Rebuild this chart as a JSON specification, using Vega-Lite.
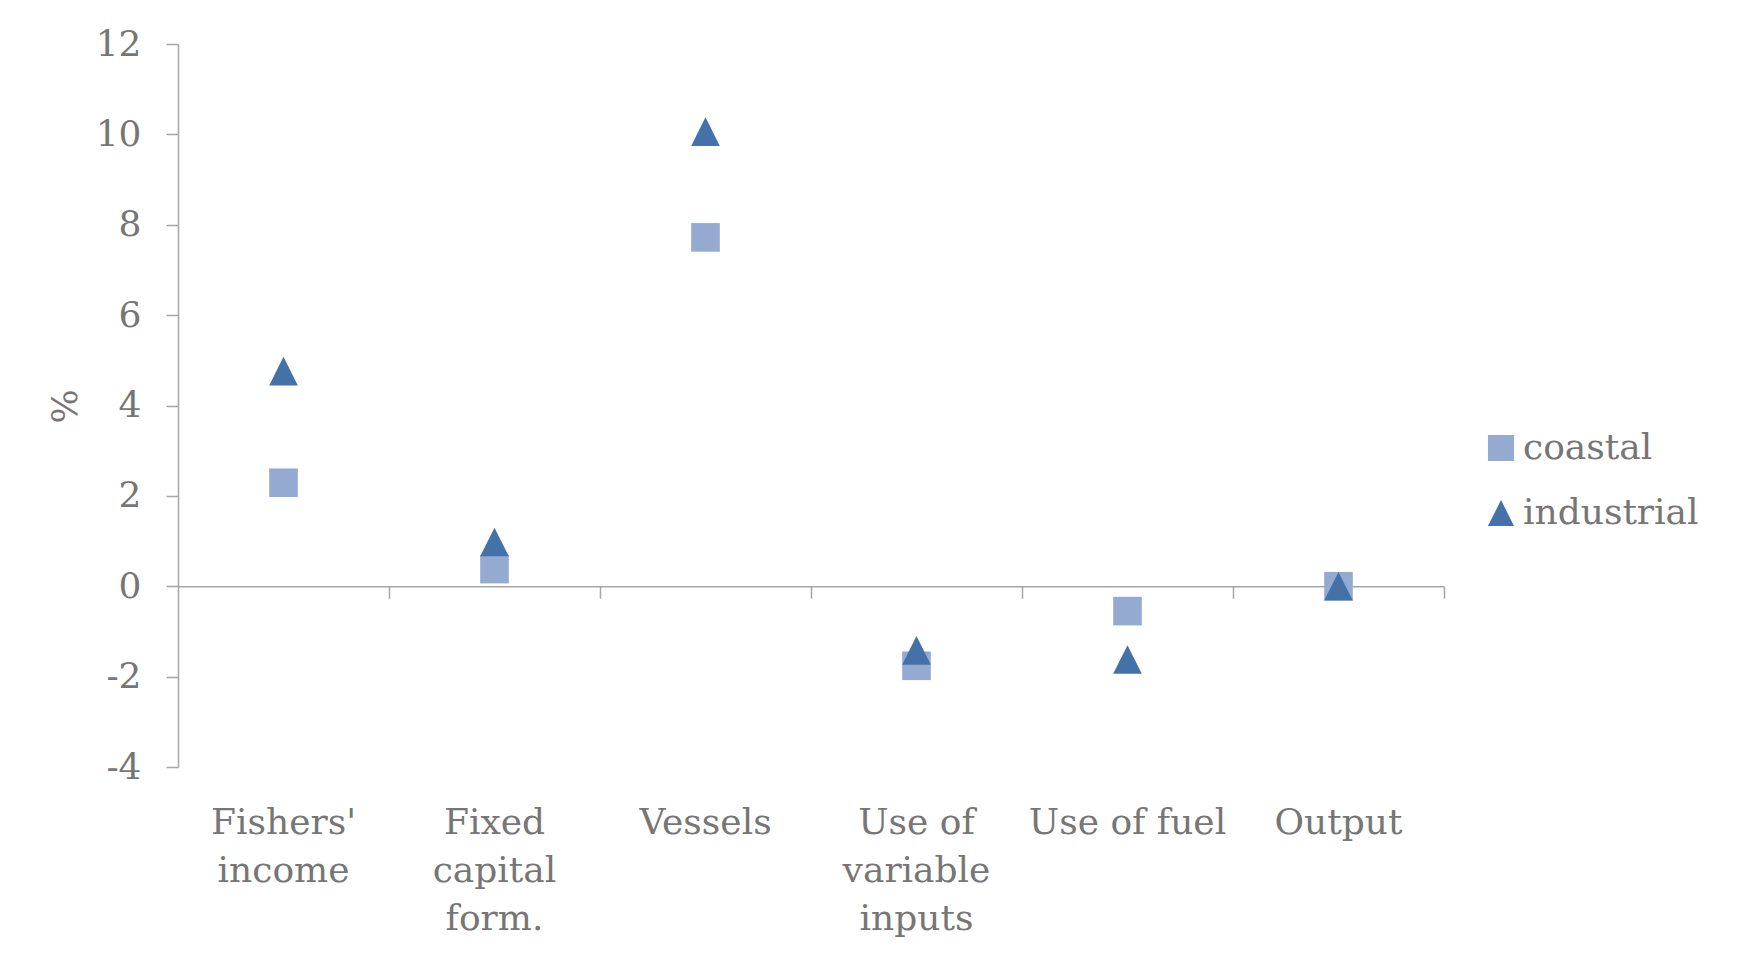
{
  "$schema": "https://vega.github.io/schema/vega-lite/v6.json",
  "autosize": {"type": "none"},
  "padding": {"left": 178, "top": 44, "right": 293, "bottom": 187},
  "width": 1266,
  "height": 723,
  "background": "white",
  "config": {
    "font": "DejaVu Serif",
    "view": {"stroke": null},
    "axis": {
      "labelFont": "DejaVu Serif",
      "labelFontSize": 36,
      "labelColor": "#767676",
      "titleFont": "DejaVu Serif",
      "titleFontSize": 36,
      "titleColor": "#767676",
      "titleFontWeight": "normal",
      "domainColor": "#a6a6a6",
      "tickColor": "#a6a6a6",
      "domainWidth": 1.5,
      "tickWidth": 1.5,
      "grid": false
    },
    "legend": {
      "labelFont": "DejaVu Serif",
      "labelFontSize": 36,
      "labelColor": "#767676"
    }
  },
  "data": {
    "values": [
      {"item": "Fishers' income", "fleet": "coastal", "pct": 2.29},
      {"item": "Fishers' income", "fleet": "industrial", "pct": 4.76},
      {"item": "Fixed capital form.", "fleet": "coastal", "pct": 0.38},
      {"item": "Fixed capital form.", "fleet": "industrial", "pct": 0.98},
      {"item": "Vessels", "fleet": "coastal", "pct": 7.72},
      {"item": "Vessels", "fleet": "industrial", "pct": 10.06},
      {"item": "Use of variable inputs", "fleet": "coastal", "pct": -1.76},
      {"item": "Use of variable inputs", "fleet": "industrial", "pct": -1.42},
      {"item": "Use of fuel", "fleet": "coastal", "pct": -0.55},
      {"item": "Use of fuel", "fleet": "industrial", "pct": -1.62},
      {"item": "Output", "fleet": "coastal", "pct": 0.0},
      {"item": "Output", "fleet": "industrial", "pct": 0.0}
    ]
  },
  "encoding": {
    "y": {
      "field": "pct",
      "type": "quantitative",
      "title": "%",
      "scale": {"domain": [-4, 12], "nice": false, "zero": false},
      "axis": {
        "values": [-4, -2, 0, 2, 4, 6, 8, 10, 12],
        "labelExpr": "toString(datum.value)",
        "tickSize": 12,
        "labelPadding": 25,
        "titleAngle": 270,
        "titleAlign": "center",
        "titleBaseline": "middle",
        "titleX": -113,
        "titleY": 362
      }
    }
  },
  "layer": [
    {
      "mark": {"type": "point", "filled": true, "opacity": 1, "strokeWidth": 0, "size": 820},
      "encoding": {
        "x": {
          "field": "item",
          "type": "nominal",
          "sort": null,
          "title": null,
          "scale": {"type": "band", "paddingInner": 0, "paddingOuter": 0},
          "axis": {
            "orient": "bottom",
            "domain": false,
            "ticks": false,
            "labelAngle": 0,
            "labelAlign": "center",
            "labelBaseline": "alphabetic",
            "labelPadding": 66,
            "labelLineHeight": 48,
            "labelLimit": 0,
            "labelExpr": "datum.value == 'Use of variable inputs' ? ['Use of', 'variable', 'inputs'] : datum.value == 'Use of fuel' ? datum.value : split(datum.value, ' ')"
          }
        },
        "color": {
          "field": "fleet",
          "type": "nominal",
          "title": null,
          "scale": {"domain": ["coastal", "industrial"], "range": ["#95AAD1", "#4472A8"]},
          "legend": {
            "orient": "none",
            "legendX": 1305,
            "legendY": 386,
            "padding": 0,
            "symbolSize": 680,
            "symbolStrokeWidth": 0,
            "labelOffset": 4,
            "labelLimit": 0,
            "rowPadding": 29
          }
        },
        "shape": {
          "field": "fleet",
          "type": "nominal",
          "scale": {"domain": ["coastal", "industrial"], "range": ["square", "M0,-1L1,1L-1,1Z"]}
        },
        "order": {"field": "fleet", "sort": "ascending"}
      }
    },
    {
      "mark": {"type": "point", "opacity": 0},
      "encoding": {
        "x": {
          "field": "item",
          "type": "nominal",
          "sort": null,
          "title": null,
          "scale": {"type": "band", "paddingInner": 0, "paddingOuter": 0},
          "axis": {
            "orient": "bottom",
            "offset": -180.75,
            "labels": false,
            "tickSize": 12,
            "bandPosition": 1
          }
        }
      }
    }
  ],
  "resolve": {"axis": {"x": "independent"}}
}
